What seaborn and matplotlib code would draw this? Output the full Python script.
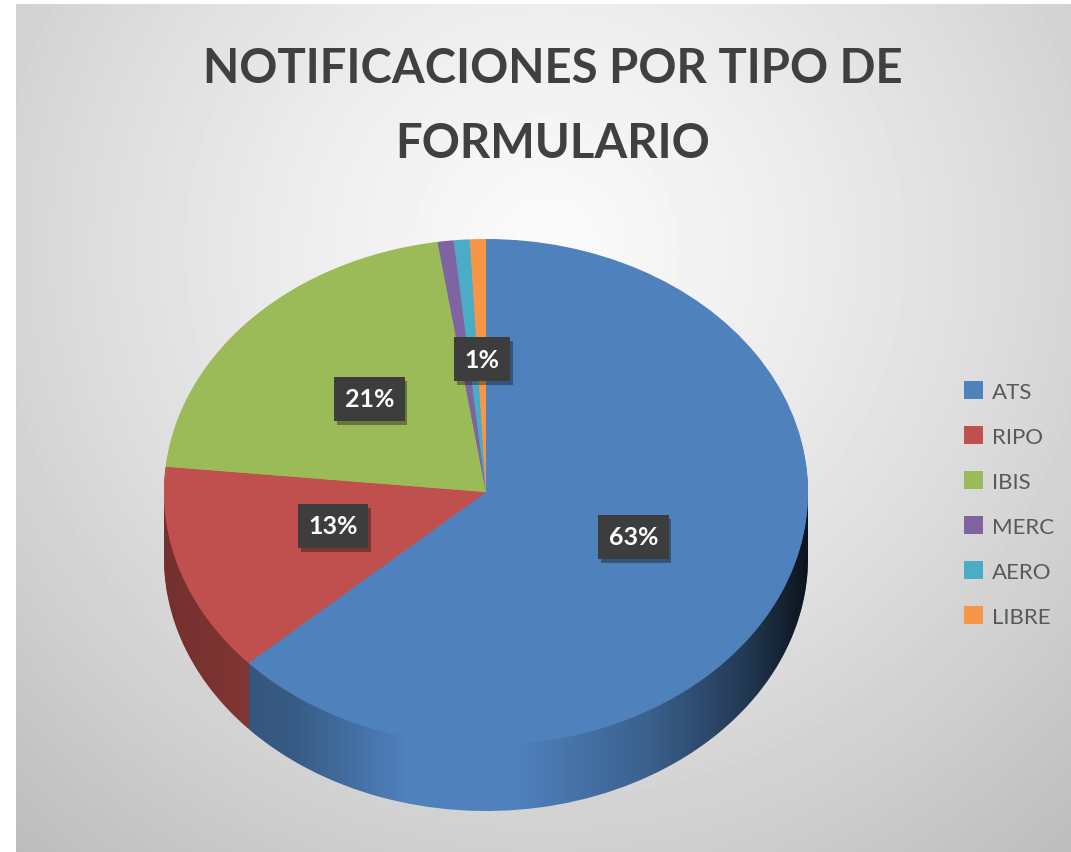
import numpy as np
import matplotlib
matplotlib.use('Agg')
import matplotlib.pyplot as plt
import matplotlib.patheffects as pe
from matplotlib.patches import Polygon
import seaborn as sns

categories = ['ATS', 'RIPO', 'IBIS', 'MERC', 'AERO', 'LIBRE']
values = [63.2, 13.4, 21.0, 0.8, 0.8, 0.8]
shown_labels = ['63%', '13%', '21%', '', '', '1%']
colors = ['#4F81BD', '#C0504D', '#9BBB59', '#8064A2', '#4BACC6', '#F79646']
title = 'NOTIFICACIONES POR TIPO DE\nFORMULARIO'

sns.set_theme(style='white')
plt.rcParams['font.family'] = ['Lato', 'DejaVu Sans']
palette = sns.color_palette(colors)

W, H = 1071, 853
fig = plt.figure(figsize=(W / 100, H / 100), dpi=100, facecolor='white')

# fondo con degradado radial (estilo Excel)
bg = fig.add_axes([16 / W, 0, 1 - 16 / W, 848 / H])
yy, xx = np.mgrid[0:848, 16:W]
r = np.hypot((xx - 545) / 700, (yy - 245) / 700)
shade = 250 - 52 * np.clip(r, 0, 1.25) ** 1.3
bg.imshow(shade, cmap='gray', vmin=0, vmax=255, aspect='auto')
bg.axis('off')

# ejes del pastel, estirados para que el círculo quede elíptico
cx, cy, rx, ry = 486, 493, 322, 253
depth = 66 / ry
left, right = cx - 1.05 * rx, cx + 1.05 * rx
top, bottom = cy - 1.05 * ry, cy + (1.1 + depth) * ry
ax = fig.add_axes([left / W, (H - bottom) / H, (right - left) / W, (bottom - top) / H])
ax.patch.set_alpha(0)

# lateral 3D: capas del pastel desplazadas hacia abajo
N = 40
for k in range(N, 0, -1):
    ax.pie(values, colors=palette, startangle=90, counterclock=False,
           center=(0, -depth * k / N), wedgeprops=dict(linewidth=0, zorder=1))

# sombreado del lateral
t = np.linspace(np.pi, 2 * np.pi, 200)
band = np.concatenate([np.c_[np.cos(t), np.sin(t)],
                       np.c_[np.cos(t[::-1]), np.sin(t[::-1]) - depth]])
clip = Polygon(band, closed=True, transform=ax.transData, facecolor='none', edgecolor='none')
ax.add_patch(clip)
u = np.linspace(-1, 1, 400)
alpha = np.interp(u, [-1, -0.6, -0.25, 0.1, 0.5, 0.8, 1],
                  [0.4, 0.3, 0.0, 0.0, 0.25, 0.55, 0.85])
rgba = np.zeros((2, 400, 4))
rgba[..., 3] = alpha
im = ax.imshow(rgba, extent=(-1, 1, -1 - depth, 0), aspect='auto', zorder=2)
im.set_clip_path(clip)

# cara superior
wedges, _ = ax.pie(values, colors=palette, startangle=90, counterclock=False,
                   wedgeprops=dict(linewidth=0, zorder=3))

for w, lab in zip(wedges, shown_labels):
    if not lab:
        continue
    ang = np.deg2rad((w.theta1 + w.theta2) / 2)
    txt = ax.text(0.5 * np.cos(ang), 0.5 * np.sin(ang) + 0.025, lab, ha='center', va='center',
                  color='white', fontsize=18, fontweight='bold', zorder=6,
                  bbox=dict(boxstyle='square,pad=0.42', fc='#3d3d3d', ec='none'))
    txt.get_bbox_patch().set_path_effects(
        [pe.withSimplePatchShadow(offset=(2, -3), shadow_rgbFace='black', alpha=0.35)])

ax.set_aspect('auto')
ax.set_xlim(-1.05, 1.05)
ax.set_ylim(-1.1 - depth, 1.05)
ax.axis('off')

leg = fig.legend(wedges, categories, loc='center left',
                 bbox_to_anchor=(964 / W, (H - 505) / H), bbox_transform=fig.transFigure,
                 frameon=False, fontsize=16, handlelength=0.85, handleheight=0.85,
                 handletextpad=0.4, labelspacing=1.1, borderpad=0, borderaxespad=0)
for tx in leg.get_texts():
    tx.set_color('#595959')

fig.text(553 / W, (H - 47) / H, title, ha='center', va='top', fontsize=34,
         fontweight='bold', color='#404040', linespacing=1.85)

fig.savefig('out.png', dpi=100)
